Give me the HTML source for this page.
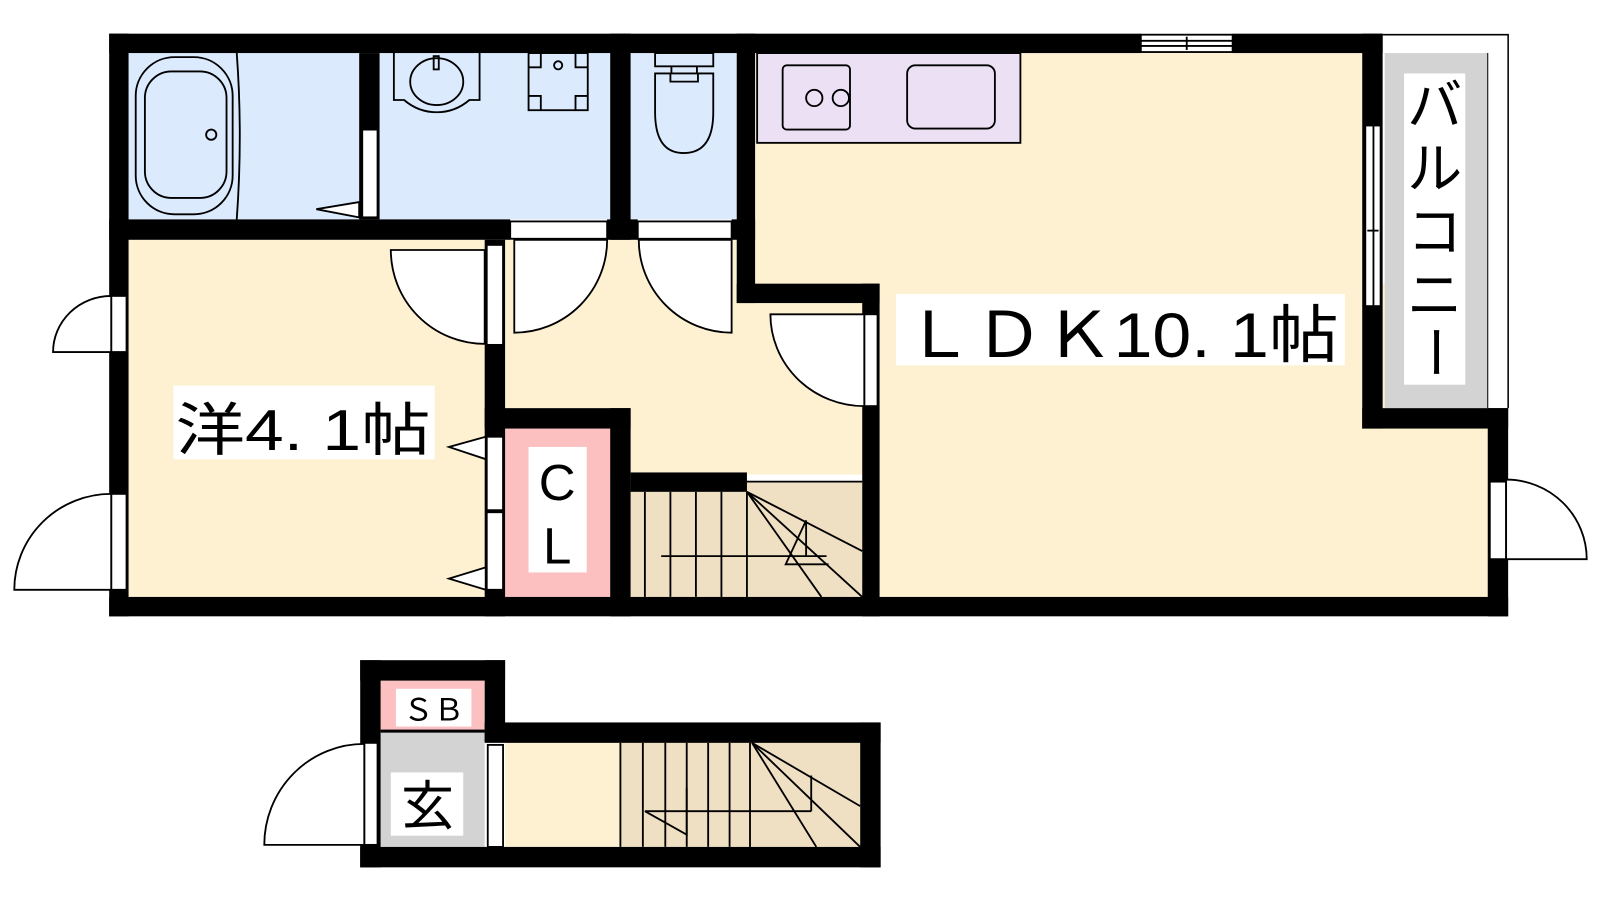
<!DOCTYPE html>
<html><head><meta charset="utf-8"><style>html,body{margin:0;padding:0;background:#fff}svg{display:block}
text{font-family:"Liberation Sans","Noto Sans CJK JP",sans-serif;fill:#000}</style></head><body>
<svg width="1600" height="900" viewBox="0 0 1600 900" xmlns="http://www.w3.org/2000/svg">
<g transform="scale(1.0204)">
<rect x="126" y="52" width="226" height="163" fill="#dbeafd"/>
<rect x="372" y="52" width="226" height="163" fill="#dbeafd"/>
<rect x="618" y="52" width="104" height="163" fill="#dbeafd"/>
<rect x="126" y="235" width="350" height="350" fill="#fdf1d2"/>
<rect x="495" y="235" width="350" height="230" fill="#fdf1d2"/>
<rect x="740" y="52" width="595" height="240" fill="#fdf1d2"/>
<rect x="862" y="278" width="596" height="307" fill="#fdf1d2"/>
<rect x="495" y="420" width="103" height="165" fill="#fcc0c0"/>
<rect x="618" y="472" width="227" height="113" fill="#efdfc3"/>
<rect x="742" y="52" width="258" height="88" fill="#ece0f5" stroke="#000" stroke-width="1.8"/>
<rect x="1357" y="52" width="101" height="348" fill="#d3d3d3"/>
<path d="M1355 34 H1478 V400" fill="none" stroke="#000" stroke-width="1.5"/>
<line x1="1458" y1="52" x2="1458" y2="400" stroke="#000" stroke-width="1"/>
<g fill="#000">
<rect x="107" y="33" width="1011" height="19"/>
<rect x="1208" y="33" width="147" height="19"/>
<rect x="107" y="33" width="19" height="571"/>
<rect x="107" y="585" width="1371" height="19"/>
<rect x="352" y="52" width="20" height="163"/>
<rect x="598" y="33" width="20" height="202"/>
<rect x="722" y="33" width="18" height="264"/>
<rect x="722" y="278" width="140" height="19"/>
<rect x="845" y="278" width="17" height="326"/>
<rect x="107" y="215" width="393" height="20"/>
<rect x="595" y="215" width="30" height="20"/>
<rect x="717" y="215" width="23" height="20"/>
<rect x="475" y="235" width="20" height="369"/>
<rect x="475" y="400" width="143" height="20"/>
<rect x="598" y="400" width="20" height="204"/>
<rect x="618" y="463" width="114" height="19"/>
<rect x="1335" y="33" width="20" height="387"/>
<rect x="1335" y="400" width="143" height="20"/>
<rect x="1458" y="400" width="20" height="204"/>
</g>
<g fill="#fff" stroke="#000" stroke-width="1.8">
<rect x="1118" y="34" width="90" height="17"/>
<rect x="355" y="127" width="15" height="86"/>
<rect x="500" y="217" width="95" height="17"/>
<rect x="625" y="217" width="92" height="17"/>
<rect x="477" y="240" width="16" height="98"/>
<rect x="847" y="308" width="13" height="90"/>
<rect x="477" y="428" width="16" height="72"/>
<rect x="477" y="502" width="16" height="76"/>
<rect x="1338" y="123" width="15" height="177"/>
<rect x="1460" y="472" width="16" height="76"/>
<rect x="109" y="290" width="15" height="55"/>
<rect x="109" y="484" width="15" height="94"/>
<path d="M475 245 H383 A92 92 0 0 0 475 337 Z"/>
<path d="M504 235 V326 A91 91 0 0 0 595 235 Z"/>
<path d="M717 235 V326 A91 91 0 0 1 626 235 Z"/>
<path d="M847 308 H755 A92 90 0 0 0 847 398 Z"/>
<path d="M1476 548 H1555 A79 78 0 0 0 1476 470 Z"/>
<path d="M109 345 H52 A57 55 0 0 1 109 290 Z"/>
<path d="M109 578 H14 A95 94 0 0 1 109 484 Z"/>
<path d="M352 198 L310 205 L352 213 Z"/>
<path d="M476 428 L440 438 L476 450 Z"/>
<path d="M476 556 L440 567 L476 578 Z"/>
</g>
<g fill="none" stroke="#000" stroke-width="1.8">
<line x1="1118" y1="40" x2="1208" y2="40"/><line x1="1118" y1="45" x2="1208" y2="45"/><line x1="1163" y1="36" x2="1163" y2="49"/>
<line x1="1346" y1="123" x2="1346" y2="300"/><line x1="1340" y1="226" x2="1351" y2="226"/>
<rect x="133" y="56" width="95" height="154" rx="38"/>
<rect x="142" y="70" width="80" height="124" rx="26"/>
<circle cx="207" cy="132" r="5"/>
<path d="M232 52 Q238 133 232 215"/>
<path d="M386 52 V98 H396 Q410 110 428 110 Q446 110 460 98 H470 V52"/>
<ellipse cx="428" cy="80" rx="26" ry="23"/>
<rect x="425" y="55" width="5" height="13"/>
<rect x="518" y="52" width="58" height="56"/>
<path d="M518 66 H530 V52 M564 52 V66 H576 M518 94 H530 V108 M564 108 V94 H576"/>
<circle cx="547" cy="64" r="4"/>
<rect x="642" y="52" width="57" height="13"/>
<path d="M642 72 H699 V110 Q699 150 670 150 Q642 150 642 110 Z"/>
<path d="M657 72 V80 H684 V72 M658 65 V72 M683 65 V72"/>
<rect x="767" y="64" width="66" height="63" rx="4"/>
<circle cx="798" cy="96" r="8"/><circle cx="824" cy="96" r="8"/>
<rect x="889" y="64" width="86" height="62" rx="8"/>
<line x1="732" y1="472" x2="845" y2="472"/>
<line x1="632" y1="482" x2="632" y2="585"/><line x1="657" y1="482" x2="657" y2="585"/>
<line x1="682" y1="482" x2="682" y2="585"/><line x1="707" y1="482" x2="707" y2="585"/>
<line x1="732" y1="482" x2="732" y2="585"/>
<line x1="648" y1="545" x2="810" y2="545"/>
<line x1="732" y1="482" x2="845" y2="540"/><line x1="732" y1="482" x2="845" y2="585"/><line x1="732" y1="482" x2="805" y2="585"/>
<path d="M790 510 V545 M790 510 L770 553 H812"/>
</g>
<rect x="495" y="728" width="113" height="102" fill="#fdf1d2"/>
<rect x="608" y="728" width="235" height="102" fill="#efdfc3"/>
<rect x="373" y="667" width="102" height="48" fill="#fcc0c0"/>
<rect x="373" y="718" width="102" height="112" fill="#d3d3d3"/>
<g fill="#000">
<rect x="353" y="647" width="142" height="20"/>
<rect x="353" y="647" width="20" height="203"/>
<rect x="475" y="647" width="20" height="80"/>
<rect x="475" y="708" width="388" height="20"/>
<rect x="843" y="708" width="20" height="142"/>
<rect x="353" y="830" width="510" height="20"/>
<rect x="373" y="715" width="102" height="3"/>
</g>
<g fill="#fff" stroke="#000" stroke-width="1.8">
<rect x="357" y="728" width="13" height="100"/>
<rect x="478" y="730" width="15" height="100"/>
<path d="M357 828 H259 A98 99 0 0 1 357 729 Z"/>
</g>
<g fill="none" stroke="#000" stroke-width="1.8">
<line x1="608" y1="728" x2="608" y2="830"/><line x1="630" y1="728" x2="630" y2="830"/>
<line x1="652" y1="728" x2="652" y2="830"/><line x1="673" y1="728" x2="673" y2="830"/>
<line x1="694" y1="728" x2="694" y2="830"/><line x1="715" y1="728" x2="715" y2="830"/>
<line x1="735" y1="728" x2="735" y2="830"/>
<line x1="632" y1="795" x2="795" y2="795"/>
<path d="M795 760 V795 M632 795 L673 818 V772"/>
<line x1="737" y1="728" x2="843" y2="790"/><line x1="737" y1="728" x2="843" y2="830"/><line x1="737" y1="728" x2="800" y2="830"/>
</g>
<rect x="170" y="378" width="256" height="72" fill="#fff"/>
<text x="172" y="441" font-size="56" textLength="250" lengthAdjust="spacingAndGlyphs">洋4. 1帖</text>
<rect x="878" y="288" width="440" height="70" fill="#fff"/>
<text x="886" y="350" font-size="62" textLength="426" lengthAdjust="spacingAndGlyphs">ＬＤＫ10. 1帖</text>
<rect x="518" y="438" width="57" height="123" fill="#fff"/>
<text x="546" y="490" font-size="50" text-anchor="middle">C</text>
<text x="546" y="552" font-size="50" text-anchor="middle">L</text>
<rect x="1376" y="72" width="60" height="305" fill="#fff"/>
<g font-size="54" text-anchor="middle">
<text x="1406" y="122">バ</text><text x="1406" y="184">ル</text><text x="1406" y="246">コ</text><text x="1406" y="308">ニ</text>
</g>
<text x="0" y="0" font-size="54" text-anchor="middle" transform="translate(1406 345) rotate(90) translate(0 19)">ー</text>
<rect x="388" y="675" width="74" height="37" fill="#fff"/>
<text x="425" y="706" font-size="30" text-anchor="middle">ＳＢ</text>
<rect x="383" y="757" width="71" height="62" fill="#fff"/>
<text x="419" y="808" font-size="52" text-anchor="middle">玄</text>
</g>
</svg>
</body></html>
